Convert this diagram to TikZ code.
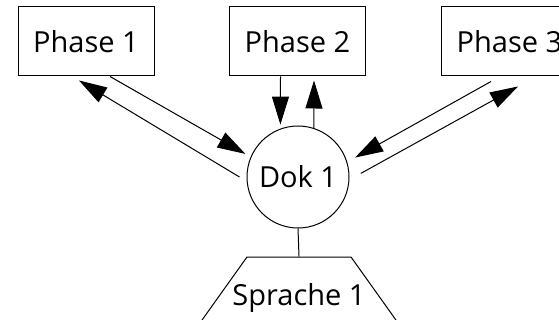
\documentclass[tikz,border=0pt]{standalone}
\usepackage{fontspec}
\setmainfont{Open Sans}
\usetikzlibrary{arrows.meta,shapes.geometric}

\begin{document}
\begin{tikzpicture}[
    x=1pt, y=-1pt,
    font=\fontsize{29}{34}\selectfont,
    line width=1pt,
    phase/.style={draw, minimum width=136pt, minimum height=69pt, inner sep=0pt},
    dokc/.style={draw, circle, minimum size=102pt, inner sep=0pt},
    trap/.style={draw, trapezium, trapezium angle=54.5, trapezium stretches body,
                 minimum width=221pt, inner xsep=0pt, inner ysep=41pt},
    arr/.style={-{Triangle[length=28pt, width=17pt]}}
]
\clip (0,0) rectangle (559,320);

\node[phase] (p1) at (86,41.5) {Phase 1};
\node[phase] (p2) at (297.5,41.5) {Phase 2};
\node[phase] (p3) at (509.5,41.5) {Phase 3};
\node[dokc] (dok) at (298,177) {Dok 1};
\node[trap, label={[font=\fontsize{29}{34}\selectfont]center:Sprache 1}] (spr) at (299,298) {};

% Phase 1 <-> Dok 1
\draw[arr, shorten >=6pt] ([xshift=24pt]p1.south) -- (dok.157);
\draw[arr] ([xshift=-7pt]dok.west) -- ([xshift=-7pt, yshift=-4pt]p1.south);

% Phase 2 <-> Dok 1
\draw[arr, shorten >=4pt] ([xshift=-17pt]p2.south) -- (dok.110);
\draw[arr] (dok.72) -- ([xshift=16.5pt, yshift=-4pt]p2.south);

% Phase 3 <-> Dok 1
\draw[arr, shorten >=9pt] ([xshift=-18.5pt, yshift=-5pt]p3.south) -- (dok.17.5);
\draw[arr, shorten <=13pt] (dok.-3) -- ([xshift=8.5pt, yshift=-10pt]p3.south);

\draw (dok.south) -- (spr.top side);
\end{tikzpicture}
\end{document}
